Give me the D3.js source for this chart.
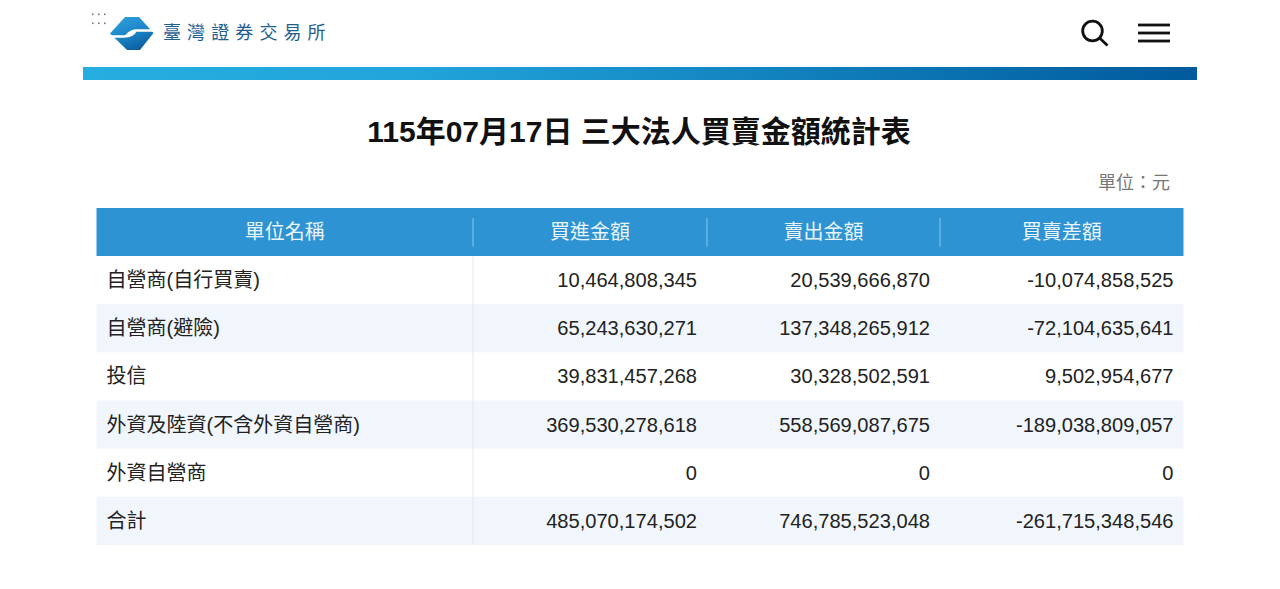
<!DOCTYPE html>
<html>
<head>
<meta charset="utf-8">
<script src="https://cdnjs.cloudflare.com/ajax/libs/d3/7.8.5/d3.min.js"></script>
<style>
  html, body { margin: 0; padding: 0; background: #fff; overflow: hidden; }
  text { font-family: "Liberation Sans", "Noto Sans CJK TC", sans-serif; }
</style>
</head>
<body>
<svg id="chart" width="1280" height="589"></svg>
<script>
const orgName = '臺灣證券交易所'
const title = '115年07月17日 三大法人買賣金額統計表'
const unitLabel = '單位：元'
const headers = ['單位名稱', '買進金額', '賣出金額', '買賣差額']
const categories = ['自營商(自行買賣)', '自營商(避險)', '投信', '外資及陸資(不含外資自營商)', '外資自營商', '合計']
const buyValues = [10464808345, 65243630271, 39831457268, 369530278618, 0, 485070174502]
const sellValues = [20539666870, 137348265912, 30328502591, 558569087675, 0, 746785523048]
const diffValues = [-10074858525, -72104635641, 9502954677, -189038809057, 0, -261715348546]

const svg = d3.select('#chart')
const fmt = d3.format(',')
const minus = s => s.replace('\u2212', '-')

// gradients
const defs = svg.append('defs')
const band = defs.append('linearGradient').attr('id', 'band')
band.append('stop').attr('offset', '0').attr('stop-color', '#27aee0')
band.append('stop').attr('offset', '0.3').attr('stop-color', '#21a4da')
band.append('stop').attr('offset', '1').attr('stop-color', '#005a9c')
const logoGrad = defs.append('linearGradient').attr('id', 'logo')
  .attr('x1', 0.2).attr('y1', 0).attr('x2', 0.7).attr('y2', 1)
logoGrad.append('stop').attr('offset', '0').attr('stop-color', '#2f9fdc')
logoGrad.append('stop').attr('offset', '0.5').attr('stop-color', '#1c86c8')
logoGrad.append('stop').attr('offset', '1').attr('stop-color', '#0a5c9c')

// header bar
const dots = svg.append('g').attr('fill', '#777')
d3.range(2).forEach(r => d3.range(3).forEach(c => {
  dots.append('rect').attr('x', 92 + c * 6).attr('y', 13.5 + r * 9).attr('width', 1.6).attr('height', 1.6)
}))

const logo = svg.append('g')
logo.append('path')
  .attr('d', 'M110 33.5 L125 17 L139 17 L153.5 33 L140 50 L127 50 Z')
  .attr('fill', 'url(#logo)')
logo.append('path')
  .attr('d', 'M110 36.5 L124 36.5 Q128 36.5 130 33.5 Q132 30.5 137 30.5 L153 30.5')
  .attr('fill', 'none').attr('stroke', '#fff').attr('stroke-width', 2.4)
logo.append('ellipse')
  .attr('cx', 131).attr('cy', 33.5).attr('rx', 6).attr('ry', 2.6)
  .attr('transform', 'rotate(-30 131 33.5)')
  .attr('fill', '#fff')

svg.append('text')
  .attr('x', 163).attr('y', 39)
  .attr('font-size', 18).attr('letter-spacing', 6.1).attr('fill', '#1f5f8f')
  .text(orgName)

const icons = svg.append('g').attr('fill', 'none').attr('stroke', '#111').attr('stroke-width', 2.8)
icons.append('circle').attr('cx', 1092.5).attr('cy', 31).attr('r', 9.8)
icons.append('line').attr('x1', 1099.5).attr('y1', 38).attr('x2', 1107.5).attr('y2', 45.5)
;[25, 33, 41].forEach(y => {
  icons.append('line').attr('x1', 1138).attr('x2', 1170).attr('y1', y).attr('y2', y)
})

svg.append('rect')
  .attr('x', 83).attr('y', 67).attr('width', 1114).attr('height', 13)
  .attr('fill', 'url(#band)')

svg.append('text')
  .attr('x', 639).attr('y', 142)
  .attr('text-anchor', 'middle').attr('font-size', 30).attr('font-weight', 700).attr('fill', '#111')
  .text(title)

svg.append('text')
  .attr('x', 1170).attr('y', 189)
  .attr('text-anchor', 'end').attr('font-size', 18).attr('fill', '#777')
  .text(unitLabel)

// table
const colEdges = [96.5, 473, 707, 940, 1183.5]
const left = colEdges[0], right = colEdges[4]
const y = d3.scaleBand().domain(categories).range([256, 545])

svg.append('rect')
  .attr('x', left).attr('y', 208).attr('width', right - left).attr('height', 48)
  .attr('fill', '#2d93d3')

svg.selectAll('.hdr').data(headers).join('text')
  .attr('class', 'hdr')
  .attr('x', (d, i) => (colEdges[i] + colEdges[i + 1]) / 2)
  .attr('y', 238.5)
  .attr('text-anchor', 'middle').attr('font-size', 20).attr('fill', '#eaf4fb')
  .text(d => d)

svg.selectAll('.hdrsep').data(colEdges.slice(1, 4)).join('line')
  .attr('class', 'hdrsep')
  .attr('x1', d => d).attr('x2', d => d).attr('y1', 218).attr('y2', 246.5)
  .attr('stroke', '#8fc4e8').attr('stroke-width', 1)

svg.selectAll('.rowbg').data(categories.filter((d, i) => i % 2 === 1)).join('rect')
  .attr('class', 'rowbg')
  .attr('x', left).attr('y', d => y(d)).attr('width', right - left).attr('height', y.bandwidth())
  .attr('fill', '#f1f6fd')

svg.append('line')
  .attr('x1', colEdges[1]).attr('x2', colEdges[1]).attr('y1', 256).attr('y2', 545)
  .attr('stroke', '#e3e8ee').attr('stroke-width', 1)

svg.selectAll('.cat').data(categories).join('text')
  .attr('class', 'cat')
  .attr('x', 106.5).attr('y', d => y(d) + y.bandwidth() / 2 + 7)
  .attr('font-size', 20).attr('fill', '#222')
  .text(d => d)

const columns = [buyValues, sellValues, diffValues]
columns.forEach((values, c) => {
  svg.selectAll('.val' + c).data(values).join('text')
    .attr('class', 'val' + c)
    .attr('x', colEdges[c + 2] - 10)
    .attr('y', (d, i) => y(categories[i]) + y.bandwidth() / 2 + 7)
    .attr('text-anchor', 'end').attr('font-size', 20.1).attr('fill', '#222')
    .text(d => minus(fmt(d)))
})
</script>
</body>
</html>
